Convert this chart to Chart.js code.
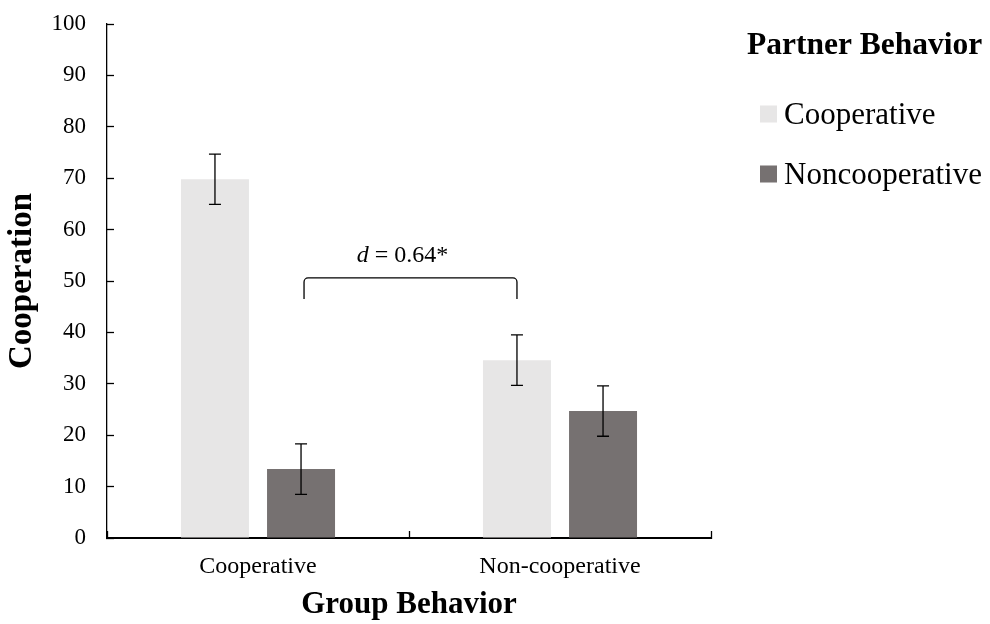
<!DOCTYPE html>
<html>
<head>
<meta charset="utf-8">
<script src="https://cdn.jsdelivr.net/npm/chart.js@4.4.1/dist/chart.umd.min.js"></script>
<style>
  html, body { margin: 0; padding: 0; background: #fff; }
  #wrap { width: 990px; height: 624px; }
</style>
</head>
<body>
<div id="wrap"><canvas id="chart" width="990" height="624"></canvas></div>
<script>
// data
const groups = ["Cooperative", "Non-cooperative"];
const partnerLabels = ["Cooperative", "Noncooperative"];
const coopMeans = [69.8, 34.6];
const noncoopMeans = [13.4, 24.7];
const coopErrors = [4.9, 4.9];
const noncoopErrors = [4.9, 4.9];
const yMin = 0, yMax = 100, yStep = 10;
const effectText = " = 0.64*";
const bracketTop = 50.6, bracketEnd = 46.5, effectLabelAt = 53.7;

const SERIF = "'Liberation Serif', 'Times New Roman', serif";
const colors = ["#E7E6E6", "#767171"];

/* =======================
   PLUGINS
======================= */
const errorBarPlugin = {
  id: "errorBars",
  afterDatasetsDraw(chart) {
    const { ctx, scales: { y } } = chart;
    ctx.save();
    ctx.strokeStyle = "#000";
    ctx.lineWidth = 1.3;
    chart.data.datasets.forEach((ds, di) => {
      chart.getDatasetMeta(di).data.forEach((bar, i) => {
        const v = ds.data[i], e = ds.errors[i];
        const top = y.getPixelForValue(v + e), bot = y.getPixelForValue(v - e);
        ctx.beginPath();
        ctx.moveTo(bar.x, top); ctx.lineTo(bar.x, bot);
        ctx.moveTo(bar.x - 6, top); ctx.lineTo(bar.x + 6, top);
        ctx.moveTo(bar.x - 6, bot); ctx.lineTo(bar.x + 6, bot);
        ctx.stroke();
      });
    });
    ctx.restore();
  }
};

const bracketPlugin = {
  id: "bracket",
  afterDatasetsDraw(chart) {
    const { ctx, scales: { y } } = chart;
    const left = chart.getDatasetMeta(1).data[0].x + 3;
    const right = chart.getDatasetMeta(0).data[1].x;
    const yt = y.getPixelForValue(bracketTop), yb = y.getPixelForValue(bracketEnd);
    ctx.save();
    ctx.strokeStyle = "#000";
    ctx.lineWidth = 1.3;
    ctx.beginPath();
    ctx.moveTo(left, yb);
    ctx.arcTo(left, yt, left + 5, yt, 4);
    ctx.arcTo(right, yt, right, yb, 4);
    ctx.lineTo(right, yb);
    ctx.stroke();

    // "d = 0.64*" with italic d
    const ly = y.getPixelForValue(effectLabelAt);
    ctx.fillStyle = "#000";
    ctx.textBaseline = "alphabetic";
    ctx.font = "italic 24px " + SERIF;
    const wd = ctx.measureText("d").width;
    ctx.font = "24px " + SERIF;
    const wr = ctx.measureText(effectText).width;
    const x0 = (left + right) / 2 - 8 - (wd + wr) / 2;
    ctx.font = "italic 24px " + SERIF;
    ctx.fillText("d", x0, ly);
    ctx.font = "24px " + SERIF;
    ctx.fillText(effectText, x0 + wd, ly);
    ctx.restore();
  }
};

const legendPlugin = {
  id: "sideLegend",
  afterDraw(chart) {
    const ctx = chart.ctx;
    ctx.save();
    ctx.textBaseline = "alphabetic";
    ctx.fillStyle = "#000";
    ctx.font = "bold 31.5px " + SERIF;
    ctx.fillText("Partner Behavior", 747, 54);
    ctx.font = "31px " + SERIF;
    chart.data.datasets.forEach((ds, i) => {
      const cy = 114 + i * 60;
      ctx.fillStyle = ds.backgroundColor;
      ctx.fillRect(760, cy - 8.5, 17, 17);
      ctx.fillStyle = "#000";
      ctx.fillText(ds.label, 784, cy + 10);
    });
    ctx.restore();
  }
};

/* =======================
   CHART
======================= */
new Chart(document.getElementById("chart"), {
  type: "bar",
  data: {
    labels: groups,
    datasets: [
      { label: partnerLabels[0], data: coopMeans, errors: coopErrors, backgroundColor: colors[0] },
      { label: partnerLabels[1], data: noncoopMeans, errors: noncoopErrors, backgroundColor: colors[1] }
    ]
  },
  options: {
    responsive: false,
    animation: false,
    devicePixelRatio: 1,
    layout: { padding: { top: 24, right: 279, left: 0, bottom: 0 } },
    datasets: { bar: { barPercentage: 0.79, categoryPercentage: 0.57, borderWidth: 0 } },
    plugins: { legend: { display: false }, tooltip: { enabled: false } },
    scales: {
      x: {
        grid: { display: true, drawOnChartArea: false, drawTicks: true, tickLength: -7, tickColor: "#000", tickWidth: 1.3, offset: true },
        border: { display: true, color: "#000", width: 2 },
        ticks: { color: "#000", font: { family: SERIF, size: 24, lineHeight: 1 }, padding: 24 },
        title: { display: true, text: "Group Behavior", color: "#000", font: { family: SERIF, size: 31, weight: "bold", lineHeight: 1 }, padding: { top: 0, bottom: 3.5 } },
        afterFit(s) { s.height = 86; }
      },
      y: {
        min: yMin, max: yMax,
        grid: { display: true, drawOnChartArea: false, drawTicks: true, tickLength: -7, tickColor: "#000", tickWidth: 1.3 },
        border: { display: true, color: "#000", width: 1.3 },
        ticks: { stepSize: yStep, color: "#000", font: { family: SERIF, size: 23, lineHeight: 1 }, padding: 28 },
        title: { display: true, text: "Cooperation", color: "#000", font: { family: SERIF, size: 33, weight: "bold", lineHeight: 1 }, padding: { top: 6, bottom: 0 } },
        afterFit(s) { s.width = 107; s.paddingTop = 12; s.paddingBottom = 12; }
      }
    }
  },
  plugins: [errorBarPlugin, bracketPlugin, legendPlugin]
});
</script>
</body>
</html>
